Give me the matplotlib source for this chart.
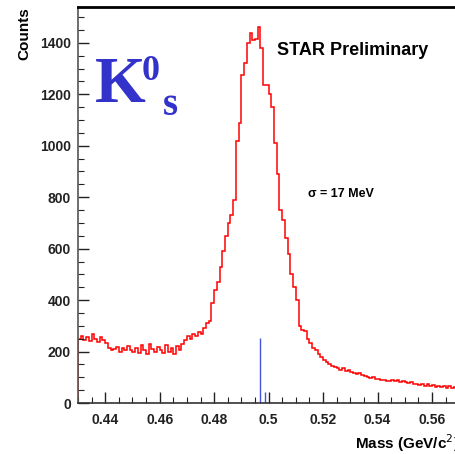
import matplotlib
matplotlib.use("Agg")
import matplotlib.pyplot as plt
import numpy as np
from matplotlib.ticker import MultipleLocator

plt.rcParams['font.family'] = ['Liberation Sans', 'DejaVu Sans']

# K0s invariant mass histogram, 1 MeV bins from 0.430 to 0.570 GeV/c^2
bin_lo = 0.430
bin_width = 0.001
counts = [
    250, 262, 245, 255, 240, 268, 250, 238, 258, 245,
    232, 215, 205, 210, 218, 200, 212, 205, 222, 208,
    200, 215, 195, 225, 205, 190, 230, 210, 200, 218,
    205, 195, 225, 200, 212, 190, 220, 205, 230, 245,
    260, 248, 270, 262, 275, 268, 290, 310, 318, 390,
    440, 470, 528, 590, 650, 700, 730, 790, 1020, 1090,
    1275, 1320, 1400, 1440, 1410, 1415, 1460, 1380, 1235, 1235,
    1200, 1150, 1010, 890, 750, 710, 640, 580, 500, 450,
    400, 300, 283, 280, 250, 232, 215, 205, 190, 180,
    167, 160, 150, 145, 140, 138, 130, 135, 125, 128,
    120, 118, 112, 115, 108, 105, 100, 98, 102, 95,
    92, 88, 90, 86, 85, 88, 84, 90, 82, 85,
    80, 78, 82, 75, 72, 70, 74, 68, 72, 66,
    70, 64, 68, 62, 66, 60, 65, 58, 62, 56,
]
edges = bin_lo + bin_width * np.arange(len(counts) + 1)

# blue marker lines near the nominal K0s mass
marker_x = [0.4970, 0.4988]
marker_h = [254, 44]

fig = plt.figure(figsize=(4.56, 4.54), dpi=100)
ax = fig.add_axes([0.171, 0.1123, 0.836, 0.8727])

ax.stairs(counts, edges, color='red', lw=1.1)
ax.vlines(marker_x, 0, marker_h, color='#4455dd', lw=1.0)

ax.set_xlim(0.43, 0.57)
ax.set_ylim(0, 1540)

ax.xaxis.set_minor_locator(MultipleLocator(0.005))
ax.yaxis.set_major_locator(MultipleLocator(200))
ax.yaxis.set_minor_locator(MultipleLocator(50))
ax.set_xticks([0.44, 0.46, 0.48, 0.5, 0.52, 0.54, 0.56])
ax.set_xticklabels(['0.44', '0.46', '0.48', '0.5', '0.52', '0.54', '0.56'])

ax.tick_params(which='both', direction='in', top=False, right=False,
               labelsize=10, colors='#222222')
ax.tick_params(which='major', length=8, width=1.0, pad=5)
ax.tick_params(which='minor', length=4, width=0.8)
for lab in ax.get_xticklabels() + ax.get_yticklabels():
    lab.set_fontweight('bold')
ax.tick_params(axis='x', pad=7)

ax.spines['right'].set_visible(False)
ax.spines['top'].set_linewidth(2.0)
ax.spines['top'].set_color('black')
ax.spines['left'].set_color('#555555')
ax.spines['bottom'].set_color('#333333')
ax.spines['left'].set_linewidth(1.2)
ax.spines['bottom'].set_linewidth(1.2)

ax.set_ylabel('Counts', fontsize=11, fontweight='bold', loc='top', labelpad=6)
ax.set_xlabel('Mass (GeV/c$^2$)', fontsize=11, fontweight='bold', loc='right', labelpad=4)

# labels
blue = '#3333cc'
fig.text(95 / 456, 1 - 102 / 454, 'K', fontsize=47, fontweight='bold',
         family='Liberation Serif', color=blue, ha='left', va='baseline')
fig.text(142 / 456, 1 - 80 / 454, '0', fontsize=26, fontweight='bold',
         family='Liberation Serif', color=blue, ha='left', va='baseline')
fig.text(163 / 456, 1 - 115 / 454, 's', fontsize=28, fontweight='bold',
         family='Liberation Serif', color=blue, ha='left', va='baseline')

fig.text(277 / 456, 1 - 55 / 454, 'STAR Preliminary', fontsize=13,
         fontweight='bold', ha='left', va='baseline')
fig.text(308 / 456, 1 - 197 / 454, 'σ = 17 MeV', fontsize=9,
         fontweight='bold', ha='left', va='baseline')

fig.savefig('out.png', dpi=100)
